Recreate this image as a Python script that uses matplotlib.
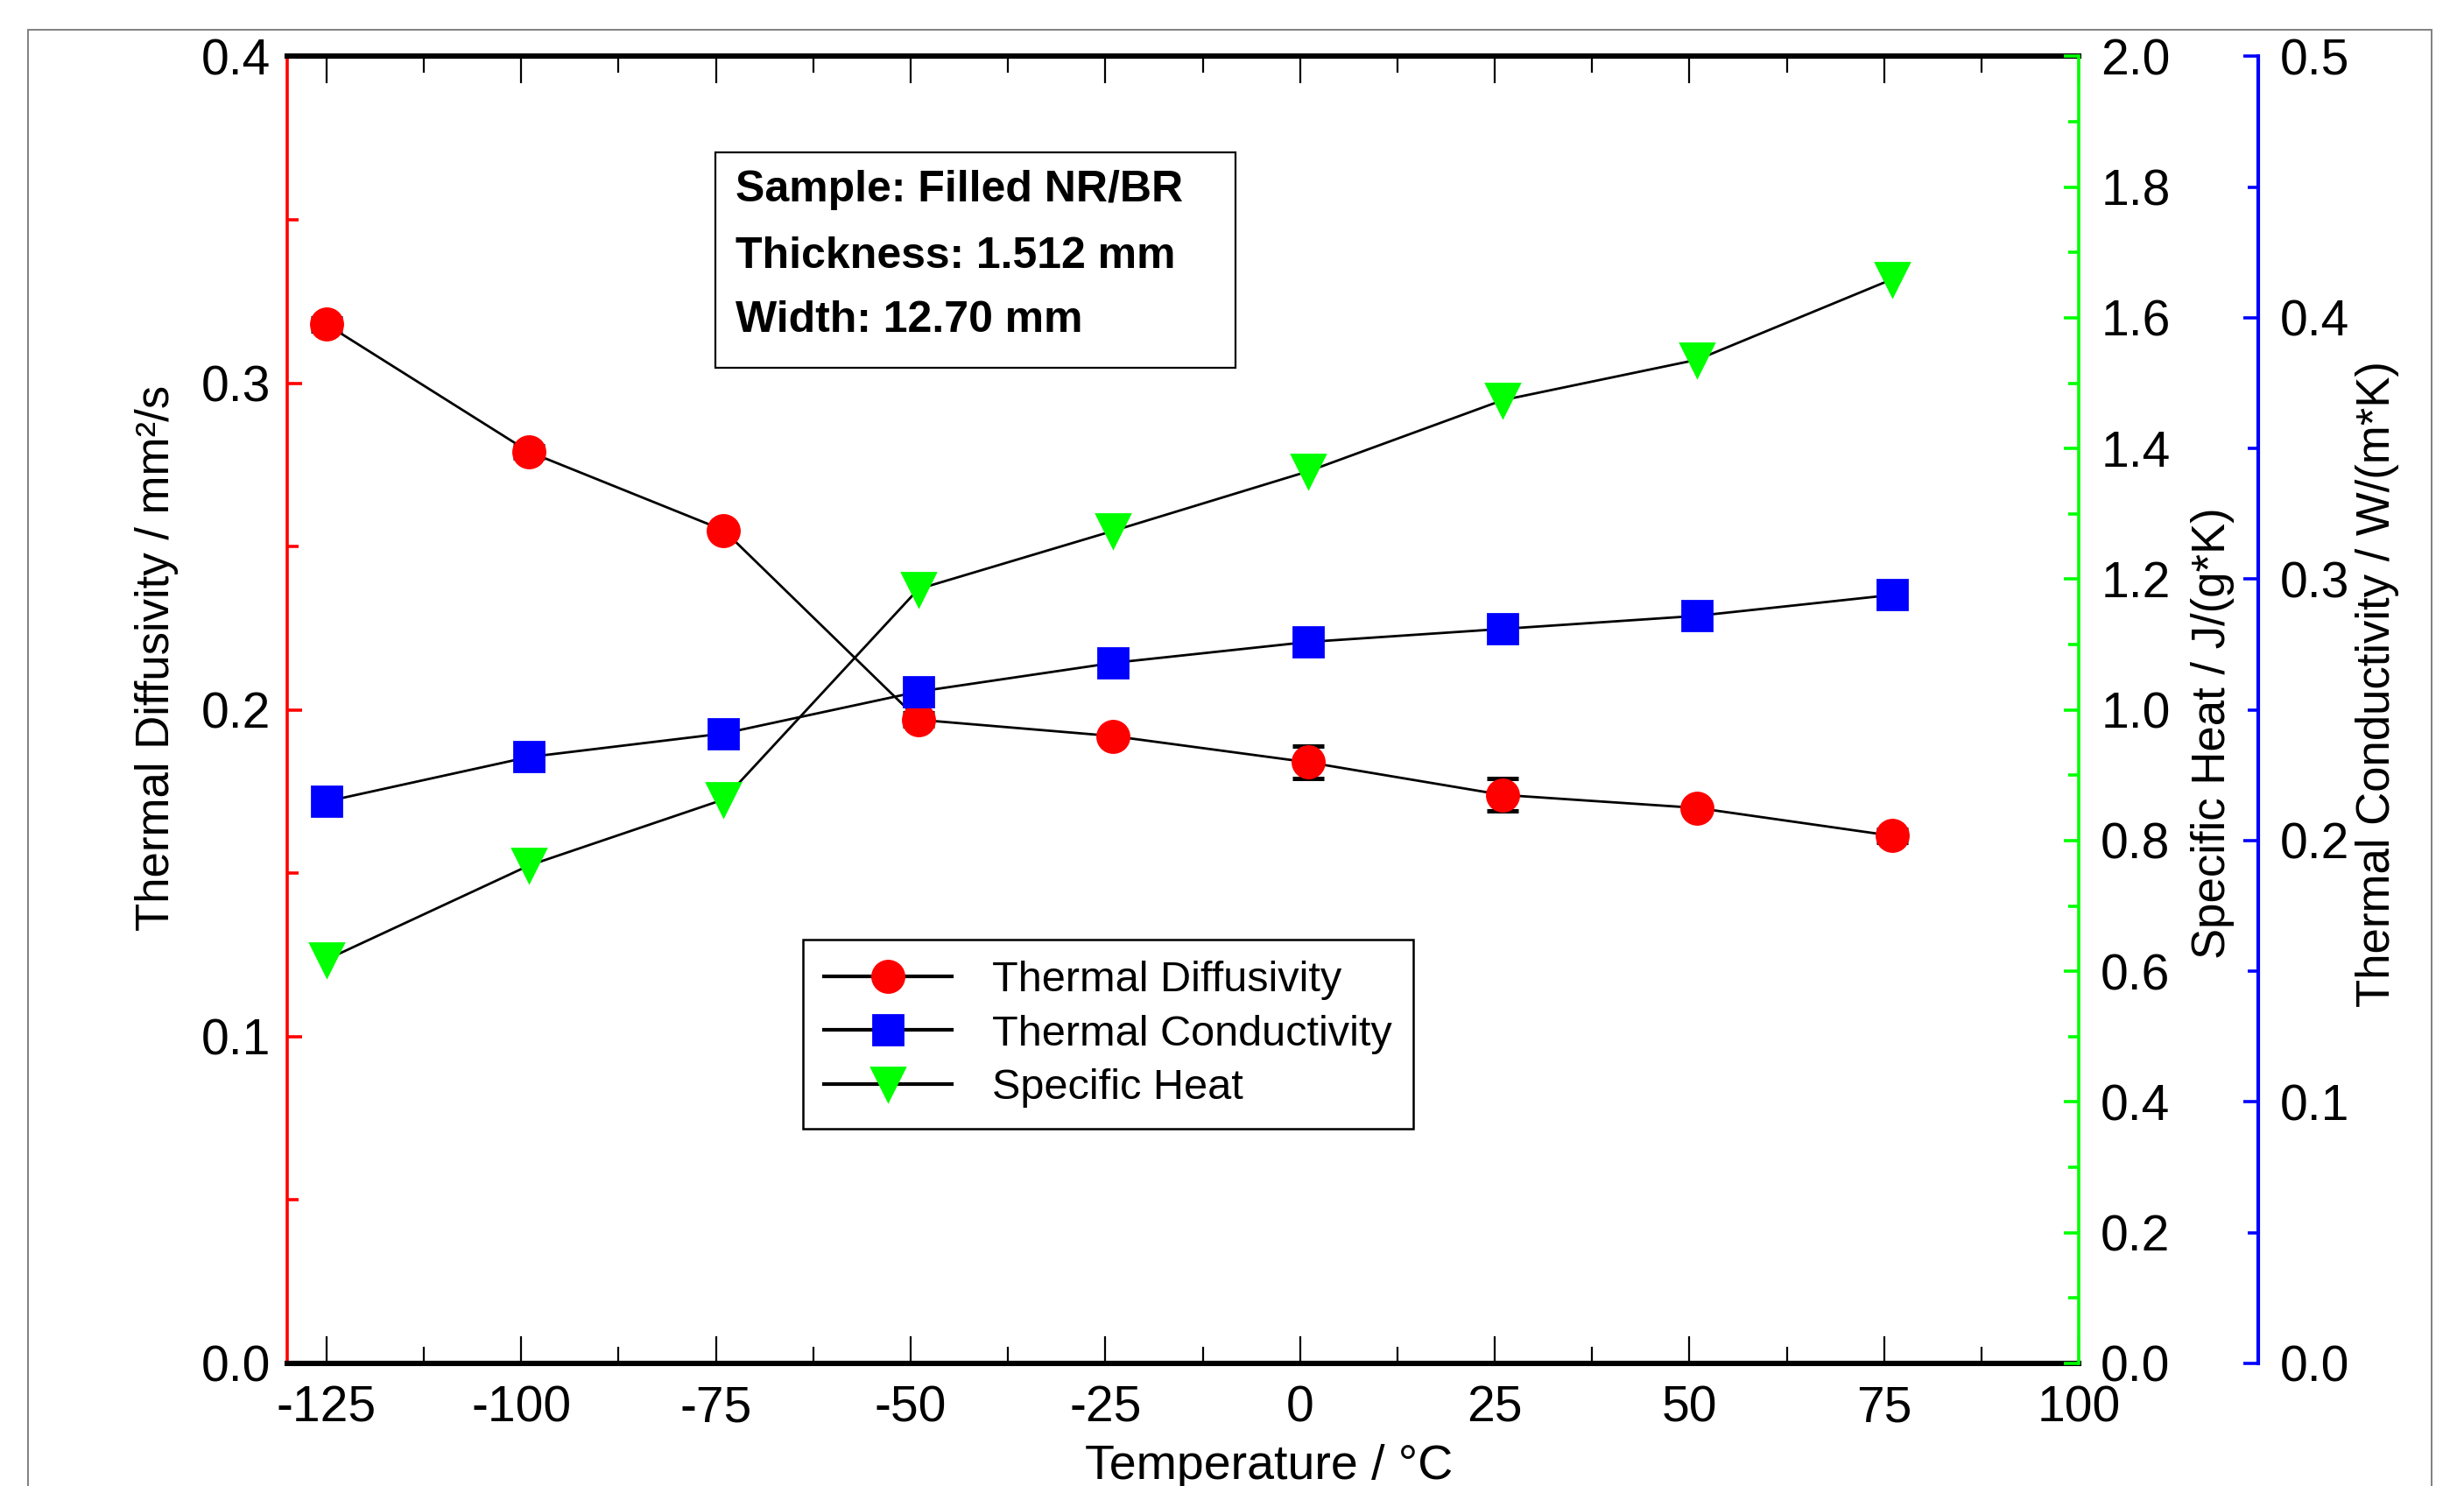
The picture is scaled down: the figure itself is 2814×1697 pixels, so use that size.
import numpy as np
import matplotlib.pyplot as plt
from matplotlib.lines import Line2D
from matplotlib.patches import Rectangle
from matplotlib.ticker import MultipleLocator, FormatStrFormatter

plt.rcParams['font.family'] = ['Liberation Sans Narrow', 'Liberation Sans', 'DejaVu Sans']
plt.rcParams['axes.unicode_minus'] = False

# data
temps = [-125, -99, -74, -49, -24, 1, 26, 51, 76]
diffusivity = [0.318, 0.279, 0.255, 0.197, 0.192, 0.184, 0.174, 0.170, 0.1615]
diff_err = [0.002, 0.002, 0.001, 0.002, 0.001, 0.005, 0.005, 0.001, 0.002]
conductivity = [0.215, 0.232, 0.241, 0.257, 0.268, 0.276, 0.281, 0.286, 0.294]
specific_heat = [0.618, 0.762, 0.863, 1.185, 1.274, 1.365, 1.474, 1.536, 1.659]

labels = ['Thermal Diffusivity', 'Thermal Conductivity', 'Specific Heat']
info = ['Sample: Filled NR/BR', 'Thickness: 1.512 mm', 'Width: 12.70 mm']

RED = '#ff0000'
GREEN = '#00ff00'
BLUE = '#0000ff'
plain = ['Liberation Sans', 'DejaVu Sans']

fig = plt.figure(figsize=(14.07, 8.485), dpi=200)
fig.add_artist(Rectangle((0.0115, -0.1), 0.9755, 1.08, transform=fig.transFigure,
                         fill=False, ec='#808080', lw=0.7))

ax = fig.add_axes([0.1167, 0.0825, 0.727, 0.8795])
ax2 = ax.twinx()
ax3 = ax.twinx()

# diffusivity (left axis)
ax.errorbar(temps, diffusivity, yerr=diff_err, fmt='none', ecolor='black',
            elinewidth=1, capsize=6.5, capthick=1.8, zorder=2)
ax.plot(temps, diffusivity, color='black', lw=1, marker='o', ms=13,
        mfc=RED, mec=RED, zorder=3)
# specific heat (green axis)
ax2.plot(temps, specific_heat, color='black', lw=1, marker='v', ms=14,
         mfc=GREEN, mec=GREEN, zorder=3)
# conductivity (blue axis)
ax3.plot(temps, conductivity, color='black', lw=1, marker='s', ms=12.5,
         mfc=BLUE, mec=BLUE, zorder=3)

ax.set_xlim(-130, 100)
ax.set_ylim(0, 0.4)
ax2.set_ylim(0, 2.0)
ax3.set_ylim(0, 0.5)

ax.xaxis.set_major_locator(MultipleLocator(25))
ax.xaxis.set_minor_locator(MultipleLocator(12.5))
ax.yaxis.set_major_locator(MultipleLocator(0.1))
ax.yaxis.set_minor_locator(MultipleLocator(0.05))
ax.yaxis.set_major_formatter(FormatStrFormatter('%.1f'))
ax2.yaxis.set_major_locator(MultipleLocator(0.2))
ax2.yaxis.set_minor_locator(MultipleLocator(0.1))
ax2.yaxis.set_major_formatter(FormatStrFormatter('%.1f'))
ax3.yaxis.set_major_locator(MultipleLocator(0.1))
ax3.yaxis.set_minor_locator(MultipleLocator(0.05))
ax3.yaxis.set_major_formatter(FormatStrFormatter('%.1f'))

# spines
ax.spines['right'].set_visible(False)
ax.spines['left'].set_color(RED)
ax.spines['left'].set_linewidth(1.3)
ax.spines['bottom'].set_linewidth(2.2)
ax.spines['top'].set_linewidth(2.2)
for a in (ax2, ax3):
    for s in ('left', 'top', 'bottom'):
        a.spines[s].set_visible(False)
ax2.spines['right'].set_color(GREEN)
ax2.spines['right'].set_linewidth(1.3)
ax3.spines['right'].set_position(('axes', 1.1))
ax3.spines['right'].set_color(BLUE)
ax3.spines['right'].set_linewidth(1.5)

ax.tick_params(axis='x', which='major', direction='in', top=True, length=11,
               width=0.8, labelsize=20.5, pad=9)
ax.tick_params(axis='x', which='minor', direction='in', top=True, length=7, width=0.8)
ax.tick_params(axis='y', which='major', direction='in', length=6, width=1.3,
               color=RED, labelsize=20.5, pad=7)
ax.tick_params(axis='y', which='minor', direction='in', length=4.5, width=1.3, color=RED)
ax2.tick_params(axis='y', which='major', direction='in', length=6, width=1.3,
                color=GREEN, labelsize=20.5, pad=9)
ax2.tick_params(axis='y', which='minor', direction='in', length=4.5, width=1.3, color=GREEN)
ax3.tick_params(axis='y', which='major', direction='in', length=6, width=1.3,
                color=BLUE, labelsize=20.5, pad=9)
ax3.tick_params(axis='y', which='minor', direction='in', length=4.5, width=1.3, color=BLUE)

# axis titles
ax.set_xlabel('Temperature / °C', fontsize=20)
ax.xaxis.set_label_coords(0.548, -0.079)
ax.xaxis.label.set_va('center')
ax.set_ylabel('Thermal Diffusivity / mm²/s', fontsize=19)
ax.yaxis.set_label_coords(-0.0728, 0.54)
ax2.set_ylabel('Specific Heat / J/(g*K)', fontsize=19)
ax2.yaxis.set_label_coords(1.0746, 0.482)
ax3.set_ylabel('Thermal Conductivity / W/(m*K)', fontsize=19)
ax3.yaxis.set_label_coords(1.1667, 0.52)
for a in (ax, ax2, ax3):
    a.yaxis.label.set_va('center')
    a.yaxis.label.set_ha('center')

# sample info box
ax3.add_patch(Rectangle((0.2386, 0.762), 0.2904, 0.1647, transform=ax3.transAxes,
                        fill=False, ec='black', lw=0.8))
for line, yy in zip(info, [0.898, 0.847, 0.798]):
    ax3.text(0.25, yy, line, transform=ax3.transAxes, va='center', ha='left',
             fontsize=18, fontweight='bold', family=plain)

# legend
handles = [
    Line2D([], [], color='black', lw=1.5, marker='o', ms=13, mfc=RED, mec=RED),
    Line2D([], [], color='black', lw=1.5, marker='s', ms=12.5, mfc=BLUE, mec=BLUE),
    Line2D([], [], color='black', lw=1.5, marker='v', ms=14, mfc=GREEN, mec=GREEN),
]
leg = ax3.legend(handles, labels, loc='upper left', bbox_to_anchor=(0.2877, 0.3245),
                 frameon=True, fancybox=False, edgecolor='black', framealpha=1,
                 prop={'family': plain, 'size': 17.5}, handlelength=3.0,
                 handletextpad=0.95, labelspacing=0.34, borderpad=0.5,
                 borderaxespad=0)
leg.get_frame().set_linewidth(0.9)

fig.savefig('out.png', dpi=200)
